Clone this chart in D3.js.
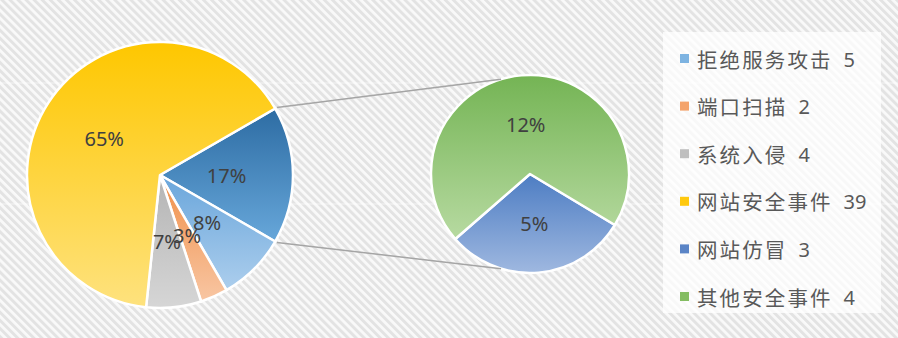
<!DOCTYPE html>
<html>
<head>
<meta charset="utf-8">
<script src="https://cdn.jsdelivr.net/npm/d3@7"></script>
<style>
    html, body { margin: 0; padding: 0; background: #fff; }
    svg { display: block; }
</style>
</head>
<body>
<svg id="chart"></svg>
<script>
// slice sizes (share of 60)
var mainCategories = ["拒绝服务攻击", "端口扫描", "系统入侵", "网站安全事件"];
var mainValues = [5, 2, 4, 39];
var subCategories = ["网站仿冒", "其他安全事件"];
var subValues = [3, 7];

// legend text as printed in the picture
var legendNames = ["拒绝服务攻击", "端口扫描", "系统入侵", "网站安全事件", "网站仿冒", "其他安全事件"];
var legendCounts = [5, 2, 4, 39, 3, 4];

document.addEventListener("DOMContentLoaded", function () {
    var width = 898;
    var height = 338;

    var colors = {
        "其他": ["#2d6ca3", "#67a7da"],
        "拒绝服务攻击": ["#6aa6db", "#acceed"],
        "端口扫描": ["#f08f48", "#f8c6a3"],
        "系统入侵": ["#b4b4b4", "#d6d6d6"],
        "网站安全事件": ["#fec700", "#fee27e"],
        "网站仿冒": ["#4d7dc3", "#9fb8e0"],
        "其他安全事件": ["#74b454", "#b7daa1"]
    };
    var legendColors = ["#7db3e1", "#f4a36b", "#bfbfbf", "#ffc90e", "#5a84c6", "#84bd62"];

    var svg = d3.select("#chart")
        .attr("width", width)
        .attr("height", height);

    var defs = svg.append("defs");

    // diagonal stripes background
    var pattern = defs.append("pattern")
        .attr("id", "stripes")
        .attr("patternUnits", "userSpaceOnUse")
        .attr("width", 5.7)
        .attr("height", 10)
        .attr("patternTransform", "rotate(-45)");
    pattern.append("rect").attr("width", 5.7).attr("height", 10).attr("fill", "#f9f9f9");
    pattern.append("rect").attr("width", 2.9).attr("height", 10).attr("fill", "#e3e3e3");

    Object.keys(colors).forEach(function (key, i) {
        var g = defs.append("linearGradient")
            .attr("id", "grad" + i)
            .attr("x1", 0).attr("y1", 0).attr("x2", 0).attr("y2", 1);
        g.append("stop").attr("offset", "0%").attr("stop-color", colors[key][0]);
        g.append("stop").attr("offset", "100%").attr("stop-color", colors[key][1]);
        colors[key].id = "url(#grad" + i + ")";
    });

    svg.append("rect")
        .attr("width", width)
        .attr("height", height)
        .attr("fill", "url(#stripes)");

    // faint sheet gridlines showing through
    [83, 204].forEach(function (y) {
        svg.append("line")
            .attr("x1", 0).attr("x2", width)
            .attr("y1", y).attr("y2", y)
            .attr("stroke", "#ffffff")
            .attr("stroke-opacity", 0.6);
    });

    var total = d3.sum(mainValues) + d3.sum(subValues);
    var fmt = function (v) { return Math.round(v / total * 100) + "%"; };

    // Main pie: the aggregated "other" slice first, centred at 3 o'clock
    var otherValue = d3.sum(subValues);
    var mainData = [{ name: "其他", value: otherValue }].concat(mainCategories.map(function (c, i) {
        return { name: c, value: mainValues[i] };
    }));
    var otherAngle = otherValue / total * 2 * Math.PI;

    var cx1 = 160, cy1 = 175, r1 = 133;
    var cx2 = 530, cy2 = 174, r2 = 99;

    var mainPie = d3.pie()
        .sort(null)
        .value(function (d) { return d.value; })
        .startAngle(Math.PI / 2 - otherAngle / 2)
        .endAngle(Math.PI / 2 - otherAngle / 2 + 2 * Math.PI);

    var arc1 = d3.arc().innerRadius(0).outerRadius(r1);

    var g1 = svg.append("g").attr("transform", "translate(" + cx1 + "," + cy1 + ")");
    var arcs1 = mainPie(mainData);

    g1.selectAll(".slice")
        .data(arcs1)
        .enter().append("path")
        .attr("class", "slice")
        .attr("d", arc1)
        .attr("fill", function (d) { return colors[d.data.name].id; })
        .attr("stroke", "#ffffff")
        .attr("stroke-width", 2.5)
        .attr("stroke-linejoin", "round");

    // Secondary pie
    var subData = subCategories.map(function (c, i) { return { name: c, value: subValues[i] }; });
    var subStart = 121 / 180 * Math.PI;
    var subPie = d3.pie()
        .sort(null)
        .value(function (d) { return d.value; })
        .startAngle(subStart)
        .endAngle(subStart + 2 * Math.PI);

    var arc2 = d3.arc().innerRadius(0).outerRadius(r2);
    var g2 = svg.append("g").attr("transform", "translate(" + cx2 + "," + cy2 + ")");
    var arcs2 = subPie(subData);

    g2.selectAll(".slice")
        .data(arcs2)
        .enter().append("path")
        .attr("class", "slice")
        .attr("d", arc2)
        .attr("fill", function (d) { return colors[d.data.name].id; })
        .attr("stroke", "#ffffff")
        .attr("stroke-width", 2.5)
        .attr("stroke-linejoin", "round");

    // Connector lines from the aggregated slice edges to the second pie
    var a0 = arcs1[0].startAngle, a1 = arcs1[0].endAngle;
    var sideAngle = 107 / 180 * Math.PI;
    var connectors = [
        [cx1 + (r1 + 2) * Math.sin(a0), cy1 - (r1 + 2) * Math.cos(a0), cx2 + r2 * Math.cos(-sideAngle), cy2 + r2 * Math.sin(-sideAngle)],
        [cx1 + (r1 + 2) * Math.sin(a1), cy1 - (r1 + 2) * Math.cos(a1), cx2 + r2 * Math.cos(sideAngle), cy2 + r2 * Math.sin(sideAngle)]
    ];
    svg.selectAll(".connector")
        .data(connectors)
        .enter().append("line")
        .attr("class", "connector")
        .attr("x1", function (d) { return d[0]; })
        .attr("y1", function (d) { return d[1]; })
        .attr("x2", function (d) { return d[2]; })
        .attr("y2", function (d) { return d[3]; })
        .attr("stroke", "#a5a5a5")
        .attr("stroke-width", 1.5);

    // Percentage labels
    var labelStyle = function (sel) {
        sel.attr("text-anchor", "middle")
            .attr("dominant-baseline", "central")
            .style("font-family", "'Noto Sans', 'DejaVu Sans', sans-serif")
            .style("font-size", "20px")
            .style("fill", "#404040");
    };

    g1.selectAll(".label")
        .data(arcs1)
        .enter().append("text")
        .attr("class", "label")
        .attr("transform", function (d) { return "translate(" + arc1.centroid(d) + ")"; })
        .call(labelStyle)
        .text(function (d) { return fmt(d.value); });

    g2.selectAll(".label")
        .data(arcs2)
        .enter().append("text")
        .attr("class", "label")
        .attr("transform", function (d) { return "translate(" + arc2.centroid(d) + ")"; })
        .call(labelStyle)
        .text(function (d) { return fmt(d.value); });

    // Legend
    var legend = svg.append("g");
    legend.append("rect")
        .attr("x", 663).attr("y", 32)
        .attr("width", 218).attr("height", 281)
        .attr("fill", "#ffffff")
        .attr("fill-opacity", 0.75);

    var rowY = d3.scalePoint().domain(legendNames).range([58.5, 296.5]);

    var rows = legend.selectAll(".legend-row")
        .data(legendNames)
        .enter().append("g")
        .attr("class", "legend-row")
        .attr("transform", function (d) { return "translate(0," + rowY(d) + ")"; });

    rows.append("rect")
        .attr("x", 680).attr("y", -4.5)
        .attr("width", 9).attr("height", 9)
        .attr("fill", function (d, i) { return legendColors[i]; });

    var legendText = rows.append("text")
        .attr("x", 697)
        .attr("dominant-baseline", "central")
        .style("font-family", "'Noto Sans CJK SC', sans-serif")
        .style("font-size", "20.5px")
        .style("fill", "#595959");

    legendText.append("tspan")
        .style("letter-spacing", "2.1px")
        .text(function (d) { return d; });

    legendText.append("tspan")
        .attr("dx", 11)
        .style("font-family", "'Noto Sans', sans-serif")
        .style("font-size", "20px")
        .text(function (d, i) { return legendCounts[i]; });
});
</script>
</body>
</html>
